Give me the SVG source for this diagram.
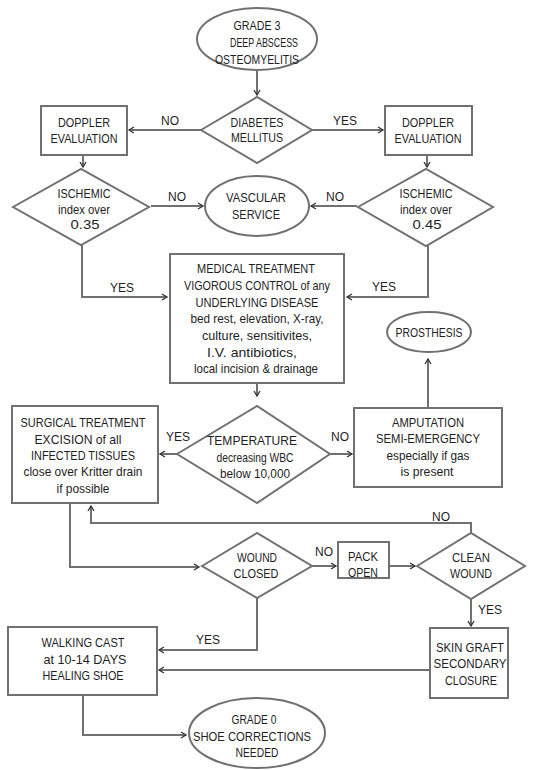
<svg xmlns="http://www.w3.org/2000/svg" width="541" height="770" viewBox="0 0 541 770">
<defs>
<style>
.s{fill:#fff;stroke:#707070;stroke-width:2}
.c{fill:none;stroke:#707070;stroke-width:2}
text{font-family:"Liberation Sans",Arial,sans-serif;font-size:13px;fill:#1e1e1e;text-anchor:middle;dominant-baseline:central}
.l{font-size:12px}
</style>
<marker id="a" markerWidth="8" markerHeight="8" refX="6" refY="4" orient="auto" markerUnits="userSpaceOnUse">
<path d="M1,1 L6,4 L1,7" fill="none" stroke="#333" stroke-width="1.3"/>
</marker>
</defs>
<rect width="541" height="770" fill="#fff"/>
<g id="connectors">
<path class="c" d="M257,70 V95" marker-end="url(#a)"/>
<path class="c" d="M201,130 H129" marker-end="url(#a)"/>
<path class="c" d="M312,130 H383" marker-end="url(#a)"/>
<path class="c" d="M83,155 V167" marker-end="url(#a)"/>
<path class="c" d="M427,155 V167" marker-end="url(#a)"/>
<path class="c" d="M151,206 H203" marker-end="url(#a)"/>
<path class="c" d="M357,206 H311" marker-end="url(#a)"/>
<path class="c" d="M82,245 V297 H167" marker-end="url(#a)"/>
<path class="c" d="M428,246 V297 H347" marker-end="url(#a)"/>
<path class="c" d="M257,383 V396" marker-end="url(#a)"/>
<path class="c" d="M177,454 H160" marker-end="url(#a)"/>
<path class="c" d="M330,454 H352" marker-end="url(#a)"/>
<path class="c" d="M428,408 V359" marker-end="url(#a)"/>
<path class="c" d="M70,503 V567 H199" marker-end="url(#a)"/>
<path class="c" d="M471,533 V523 H91 V506" marker-end="url(#a)"/>
<path class="c" d="M312,566 H336" marker-end="url(#a)"/>
<path class="c" d="M389,566 H415" marker-end="url(#a)"/>
<path class="c" d="M471,599 V626" marker-end="url(#a)"/>
<path class="c" d="M257,598 V650 H159" marker-end="url(#a)"/>
<path class="c" d="M430,670 H159" marker-end="url(#a)"/>
<path class="c" d="M83,695 V735 H186" marker-end="url(#a)"/>
<text x="170" y="121" class="l">NO</text>
<text x="345" y="121" class="l">YES</text>
<text x="177" y="197" class="l">NO</text>
<text x="335" y="197" class="l">NO</text>
<text x="122" y="288" class="l">YES</text>
<text x="384" y="287" class="l">YES</text>
<text x="178" y="437" class="l">YES</text>
<text x="340" y="437" class="l">NO</text>
<text x="441" y="517" class="l">NO</text>
<text x="324" y="552" class="l">NO</text>
<text x="490" y="610" class="l">YES</text>
<text x="208" y="640" class="l">YES</text>
</g>
<g id="grade3">
<ellipse class="s" cx="257" cy="39" rx="60" ry="31"/>
<text x="257" y="25" textLength="47" lengthAdjust="spacingAndGlyphs">GRADE 3</text>
<text x="264" y="42" textLength="68" lengthAdjust="spacingAndGlyphs">DEEP ABSCESS</text>
<text x="257" y="59" textLength="84" lengthAdjust="spacingAndGlyphs">OSTEOMYELITIS</text>
</g>
<g id="diabetes">
<polygon class="s" points="201,130 257,97 312,130 257,163"/>
<text x="257" y="122" textLength="53" lengthAdjust="spacingAndGlyphs">DIABETES</text>
<text x="257" y="137" textLength="52" lengthAdjust="spacingAndGlyphs">MELLITUS</text>
</g>
<g id="doppler-left">
<rect class="s" x="41" y="106" width="86" height="49"/>
<text x="84" y="122" textLength="52" lengthAdjust="spacingAndGlyphs">DOPPLER</text>
<text x="84" y="138" textLength="67" lengthAdjust="spacingAndGlyphs">EVALUATION</text>
</g>
<g id="doppler-right">
<rect class="s" x="385" y="106" width="87" height="49"/>
<text x="428" y="122" textLength="52" lengthAdjust="spacingAndGlyphs">DOPPLER</text>
<text x="428" y="138" textLength="67" lengthAdjust="spacingAndGlyphs">EVALUATION</text>
</g>
<g id="ischemic-left">
<polygon class="s" points="13,207 81,169 149,207 81,245"/>
<text x="84" y="193" textLength="53" lengthAdjust="spacingAndGlyphs">ISCHEMIC</text>
<text x="84" y="209" textLength="52" lengthAdjust="spacingAndGlyphs">index over</text>
<text x="85" y="224" textLength="29" lengthAdjust="spacingAndGlyphs">0.35</text>
</g>
<g id="ischemic-right">
<polygon class="s" points="358,207 426,169 493,207 426,246"/>
<text x="426" y="193" textLength="53" lengthAdjust="spacingAndGlyphs">ISCHEMIC</text>
<text x="426" y="209" textLength="52" lengthAdjust="spacingAndGlyphs">index over</text>
<text x="427" y="224" textLength="29" lengthAdjust="spacingAndGlyphs">0.45</text>
</g>
<g id="vascular">
<ellipse class="s" cx="257" cy="206" rx="52" ry="30"/>
<text x="256" y="197" textLength="60" lengthAdjust="spacingAndGlyphs">VASCULAR</text>
<text x="256" y="214" textLength="48" lengthAdjust="spacingAndGlyphs">SERVICE</text>
</g>
<g id="medical">
<rect class="s" x="170" y="254" width="174" height="129"/>
<text x="256" y="268" textLength="118" lengthAdjust="spacingAndGlyphs">MEDICAL TREATMENT</text>
<text x="257" y="285" textLength="146" lengthAdjust="spacingAndGlyphs">VIGOROUS CONTROL of any</text>
<text x="257" y="302" textLength="123" lengthAdjust="spacingAndGlyphs">UNDERLYING DISEASE</text>
<text x="257" y="318" textLength="133" lengthAdjust="spacingAndGlyphs">bed rest, elevation, X-ray,</text>
<text x="257" y="335" textLength="110" lengthAdjust="spacingAndGlyphs">culture, sensitivites,</text>
<text x="252" y="352" textLength="90" lengthAdjust="spacingAndGlyphs">I.V. antibiotics,</text>
<text x="256" y="368" textLength="124" lengthAdjust="spacingAndGlyphs">local incision &amp; drainage</text>
</g>
<g id="prosthesis">
<ellipse class="s" cx="429" cy="332" rx="42" ry="20"/>
<text x="429" y="332" textLength="67" lengthAdjust="spacingAndGlyphs">PROSTHESIS</text>
</g>
<g id="temperature">
<polygon class="s" points="177,454 257,406 330,454 257,503"/>
<text x="252" y="440" textLength="90" lengthAdjust="spacingAndGlyphs">TEMPERATURE</text>
<text x="255" y="457" textLength="77" lengthAdjust="spacingAndGlyphs">decreasing WBC</text>
<text x="255" y="473" textLength="70" lengthAdjust="spacingAndGlyphs">below 10,000</text>
</g>
<g id="surgical">
<rect class="s" x="12" y="406" width="146" height="97"/>
<text x="83" y="422" textLength="125" lengthAdjust="spacingAndGlyphs">SURGICAL TREATMENT</text>
<text x="78" y="439" textLength="87" lengthAdjust="spacingAndGlyphs">EXCISION of all</text>
<text x="83" y="455" textLength="104" lengthAdjust="spacingAndGlyphs">INFECTED TISSUES</text>
<text x="83" y="471" textLength="119" lengthAdjust="spacingAndGlyphs">close over Kritter drain</text>
<text x="83" y="488" textLength="53" lengthAdjust="spacingAndGlyphs">if possible</text>
</g>
<g id="amputation">
<rect class="s" x="354" y="408" width="148" height="79"/>
<text x="428" y="422" textLength="72" lengthAdjust="spacingAndGlyphs">AMPUTATION</text>
<text x="428" y="438" textLength="104" lengthAdjust="spacingAndGlyphs">SEMI-EMERGENCY</text>
<text x="428" y="455" textLength="83" lengthAdjust="spacingAndGlyphs">especially if gas</text>
<text x="427" y="471" textLength="53" lengthAdjust="spacingAndGlyphs">is present</text>
</g>
<g id="wound-closed">
<polygon class="s" points="202,566 257,533 312,566 257,598"/>
<text x="257" y="557" textLength="40" lengthAdjust="spacingAndGlyphs">WOUND</text>
<text x="256" y="573" textLength="45" lengthAdjust="spacingAndGlyphs">CLOSED</text>
</g>
<g id="pack-open">
<rect class="s" x="338" y="542" width="51" height="36"/>
<text x="363" y="556" textLength="30" lengthAdjust="spacingAndGlyphs">PACK</text>
<text x="363" y="572" textLength="30" lengthAdjust="spacingAndGlyphs">OPEN</text>
</g>
<g id="clean-wound">
<polygon class="s" points="417,566 471,533 525,566 471,599"/>
<text x="471" y="557" textLength="38" lengthAdjust="spacingAndGlyphs">CLEAN</text>
<text x="471" y="573" textLength="42" lengthAdjust="spacingAndGlyphs">WOUND</text>
</g>
<g id="skin-graft">
<rect class="s" x="430" y="628" width="78" height="70"/>
<text x="470" y="647" textLength="68" lengthAdjust="spacingAndGlyphs">SKIN GRAFT</text>
<text x="470" y="663" textLength="73" lengthAdjust="spacingAndGlyphs">SECONDARY</text>
<text x="471" y="680" textLength="52" lengthAdjust="spacingAndGlyphs">CLOSURE</text>
</g>
<g id="walking-cast">
<rect class="s" x="8" y="627" width="149" height="68"/>
<text x="83" y="642" textLength="83" lengthAdjust="spacingAndGlyphs">WALKING CAST</text>
<text x="85" y="659" textLength="83" lengthAdjust="spacingAndGlyphs">at 10-14 DAYS</text>
<text x="83" y="675" textLength="81" lengthAdjust="spacingAndGlyphs">HEALING SHOE</text>
</g>
<g id="grade0">
<ellipse class="s" cx="257" cy="733" rx="68" ry="35"/>
<text x="254" y="719" textLength="45" lengthAdjust="spacingAndGlyphs">GRADE 0</text>
<text x="252" y="736" textLength="118" lengthAdjust="spacingAndGlyphs">SHOE CORRECTIONS</text>
<text x="257" y="752" textLength="43" lengthAdjust="spacingAndGlyphs">NEEDED</text>
</g>
</svg>
